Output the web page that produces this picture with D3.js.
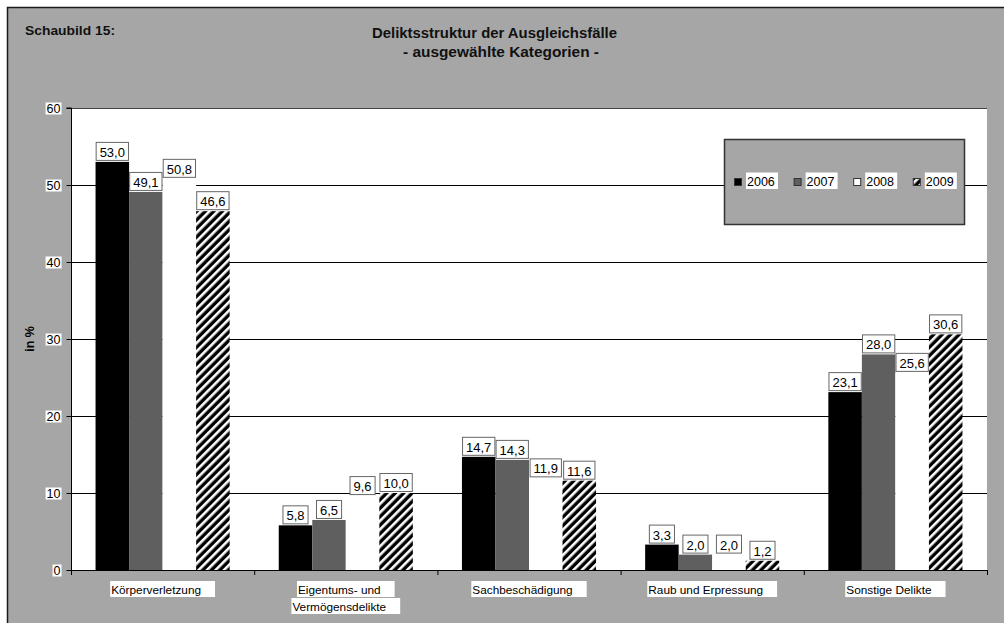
<!DOCTYPE html>
<html>
<head>
<meta charset="utf-8">
<script src="https://cdn.jsdelivr.net/npm/d3@7"></script>
<style>
  html, body { margin: 0; padding: 0; background: #ffffff; }
  svg { display: block; font-family: "Liberation Sans", Arial, sans-serif; }
</style>
</head>
<body>
<svg id="chart" width="1004" height="623"></svg>
<script>
// Anteile der Deliktsgruppen an den Ausgleichsfällen (in %)
const categories = [
  ["Körperverletzung"],
  ["Eigentums- und", "Vermögensdelikte"],
  ["Sachbeschädigung"],
  ["Raub und Erpressung"],
  ["Sonstige Delikte"]
];
const years = ["2006", "2007", "2008", "2009"];
const values2006 = [53.0, 5.8, 14.7, 3.3, 23.1];
const values2007 = [49.1, 6.5, 14.3, 2.0, 28.0];
const values2008 = [50.8, 9.6, 11.9, 2.0, 25.6];
const values2009 = [46.6, 10.0, 11.6, 1.2, 30.6];
const yTicks = [0, 10, 20, 30, 40, 50, 60];

const seriesValues = [values2006, values2007, values2008, values2009];
const fills = ["#000000", "#5f5f5f", "#ffffff", "url(#hatch)"];
const fmt = v => d3.format(".1f")(v).replace(".", ",");

const svg = d3.select("#chart");
const W = 1004, H = 623;
const plot = { left: 71, right: 987, top: 108, bottom: 570 };

// Diagonale Schraffur für 2009
const defs = svg.append("defs");
const pat = defs.append("pattern")
  .attr("id", "hatch")
  .attr("patternUnits", "userSpaceOnUse")
  .attr("width", 6).attr("height", 6)
  .attr("patternTransform", "rotate(45)");
pat.append("rect").attr("width", 6).attr("height", 6).attr("fill", "#000");
pat.append("rect").attr("x", 0).attr("width", 2.6).attr("height", 6).attr("fill", "#fff");

// Hintergrund und Rahmen
svg.append("rect").attr("width", W).attr("height", H).attr("fill", "#ffffff");
svg.append("rect")
  .attr("x", 7.5).attr("y", 7.5).attr("width", W + 20).attr("height", H + 20)
  .attr("fill", "#a6a6a6").attr("stroke", "#1a1a1a").attr("stroke-width", 1.5);

// Überschriften
function fitText(sel, len) {
  sel.attr("textLength", len).attr("lengthAdjust", "spacingAndGlyphs");
}
svg.append("text").attr("x", 25).attr("y", 35)
  .attr("font-size", 12).attr("font-weight", "bold").attr("fill", "#111")
  .text("Schaubild 15:").call(fitText, 90);
svg.append("text").attr("x", 372).attr("y", 38)
  .attr("font-size", 14).attr("font-weight", "bold").attr("fill", "#111")
  .text("Deliktsstruktur der Ausgleichsfälle").call(fitText, 245);
svg.append("text").attr("x", 403).attr("y", 57)
  .attr("font-size", 14).attr("font-weight", "bold").attr("fill", "#111")
  .text("- ausgewählte Kategorien -").call(fitText, 196);

// Skalen
const x0 = d3.scaleBand().domain(d3.range(categories.length))
  .range([plot.left, plot.right]).padding(0);
const groupPad = x0.bandwidth() * 0.134;
const x1 = d3.scaleBand().domain(years)
  .range([groupPad, x0.bandwidth() - groupPad]).padding(0);
const y = d3.scaleLinear().domain([0, 60]).range([plot.bottom, plot.top]);

// Zeichenfläche
svg.append("rect")
  .attr("x", plot.left).attr("y", plot.top)
  .attr("width", plot.right - plot.left).attr("height", plot.bottom - plot.top)
  .attr("fill", "#ffffff");

// Gitternetzlinien
svg.append("g").selectAll("line")
  .data(yTicks.filter(t => t > 0))
  .join("line")
  .attr("x1", plot.left).attr("x2", plot.right)
  .attr("y1", d => Math.round(y(d)) + 0.5).attr("y2", d => Math.round(y(d)) + 0.5)
  .attr("stroke", d => d === 60 ? "#444" : "#000").attr("stroke-width", 1);

// Balken
const groups = svg.append("g").selectAll("g")
  .data(categories.map((c, i) => i))
  .join("g")
  .attr("transform", i => `translate(${x0(i)},0)`);

groups.selectAll("rect")
  .data(i => years.map((yr, s) => ({ yr, s, v: seriesValues[s][i] })))
  .join("rect")
  .attr("x", d => x1(d.yr))
  .attr("y", d => y(d.v))
  .attr("width", x1.bandwidth())
  .attr("height", d => y(0) - y(d.v))
  .attr("fill", d => fills[d.s]);

// Y-Achse
const yAxis = svg.append("g")
  .attr("transform", `translate(${plot.left + 0.5},0)`)
  .call(d3.axisLeft(y).tickValues(yTicks).tickSize(5).tickPadding(6).tickFormat(d3.format("d")));
yAxis.select(".domain").attr("stroke", "#000").attr("d", `M-5,${plot.top}H0V${plot.bottom}`);
yAxis.selectAll(".tick line").attr("stroke", "#000");
yAxis.selectAll(".tick text")
  .attr("font-size", 12.5).attr("fill", "#000")
  .attr("font-family", "Liberation Sans, Arial, sans-serif")
  .each(function () {
    const b = this.getBBox();
    d3.select(this.parentNode).insert("rect", "text")
      .attr("x", b.x - 1).attr("y", b.y + 1).attr("width", b.width + 2).attr("height", b.height - 2)
      .attr("fill", "#fff");
  });

// X-Achse
const xAxisG = svg.append("g");
xAxisG.append("line")
  .attr("x1", plot.left).attr("x2", plot.right)
  .attr("y1", plot.bottom + 0.5).attr("y2", plot.bottom + 0.5)
  .attr("stroke", "#000").attr("stroke-width", 1.2);
xAxisG.selectAll("line.tick")
  .data(d3.range(categories.length + 1))
  .join("line").attr("class", "tick")
  .attr("x1", i => (i < categories.length ? x0(i) : plot.right) + 0.5)
  .attr("x2", i => (i < categories.length ? x0(i) : plot.right) + 0.5)
  .attr("y1", plot.bottom).attr("y2", plot.bottom + 5)
  .attr("stroke", "#000");

// Kategorienbeschriftung
categories.forEach((lines, i) => {
  const cx = x0(i) + x0.bandwidth() / 2;
  lines.forEach((ln, k) => {
    const t = svg.append("text")
      .attr("y", 593.5 + k * 17)
      .attr("font-size", 11.8).attr("fill", "#000")
      .text(ln);
    const w = t.node().getComputedTextLength();
    const boxW = w + 15;
    const bx = cx - boxW / 2;
    t.attr("x", bx + 1);
    svg.insert("rect", () => t.node())
      .attr("x", bx).attr("y", 581 + k * 17).attr("width", boxW).attr("height", 16)
      .attr("fill", "#fff");
  });
});

// Datenbeschriftungen
groups.each(function (i) {
  const g = d3.select(this);
  years.forEach((yr, s) => {
    const v = seriesValues[s][i];
    const cx = x1(yr) + x1.bandwidth() / 2;
    const t = g.append("text")
      .attr("font-size", 13).attr("fill", "#000")
      .attr("text-anchor", "middle")
      .attr("x", cx)
      .attr("y", y(v) - 5)
      .text(fmt(v));
    const w = t.node().getComputedTextLength();
    g.insert("rect", () => t.node())
      .attr("x", cx - w / 2 - 3.5).attr("y", y(v) - 19.5)
      .attr("width", w + 7).attr("height", 18)
      .attr("fill", "#fff").attr("stroke", "#666").attr("stroke-width", 1);
  });
});

// Achsentitel
svg.append("text")
  .attr("transform", `translate(34,${(plot.top + plot.bottom) / 2}) rotate(-90)`)
  .attr("text-anchor", "middle")
  .attr("font-size", 12.5).attr("font-weight", "bold").attr("fill", "#000")
  .text("in %");

// Legende
const legend = svg.append("g");
legend.append("rect")
  .attr("x", 724.5).attr("y", 139.5).attr("width", 240).attr("height", 85)
  .attr("fill", "#a6a6a6").attr("stroke", "#333").attr("stroke-width", 1.5);
years.forEach((yr, s) => {
  const lx = 734 + s * 59.6;
  legend.append("rect")
    .attr("x", lx + 0.5).attr("y", 178.5).attr("width", 7).attr("height", 7)
    .attr("fill", fills[s]).attr("stroke", "#333").attr("stroke-width", 1);
  legend.append("rect")
    .attr("x", lx + 12).attr("y", 172.5).attr("width", 32).attr("height", 16.5)
    .attr("fill", "#fff");
  legend.append("text")
    .attr("x", lx + 13).attr("y", 185.8)
    .attr("font-size", 12.5).attr("fill", "#000")
    .text(yr);
});
</script>
</body>
</html>
